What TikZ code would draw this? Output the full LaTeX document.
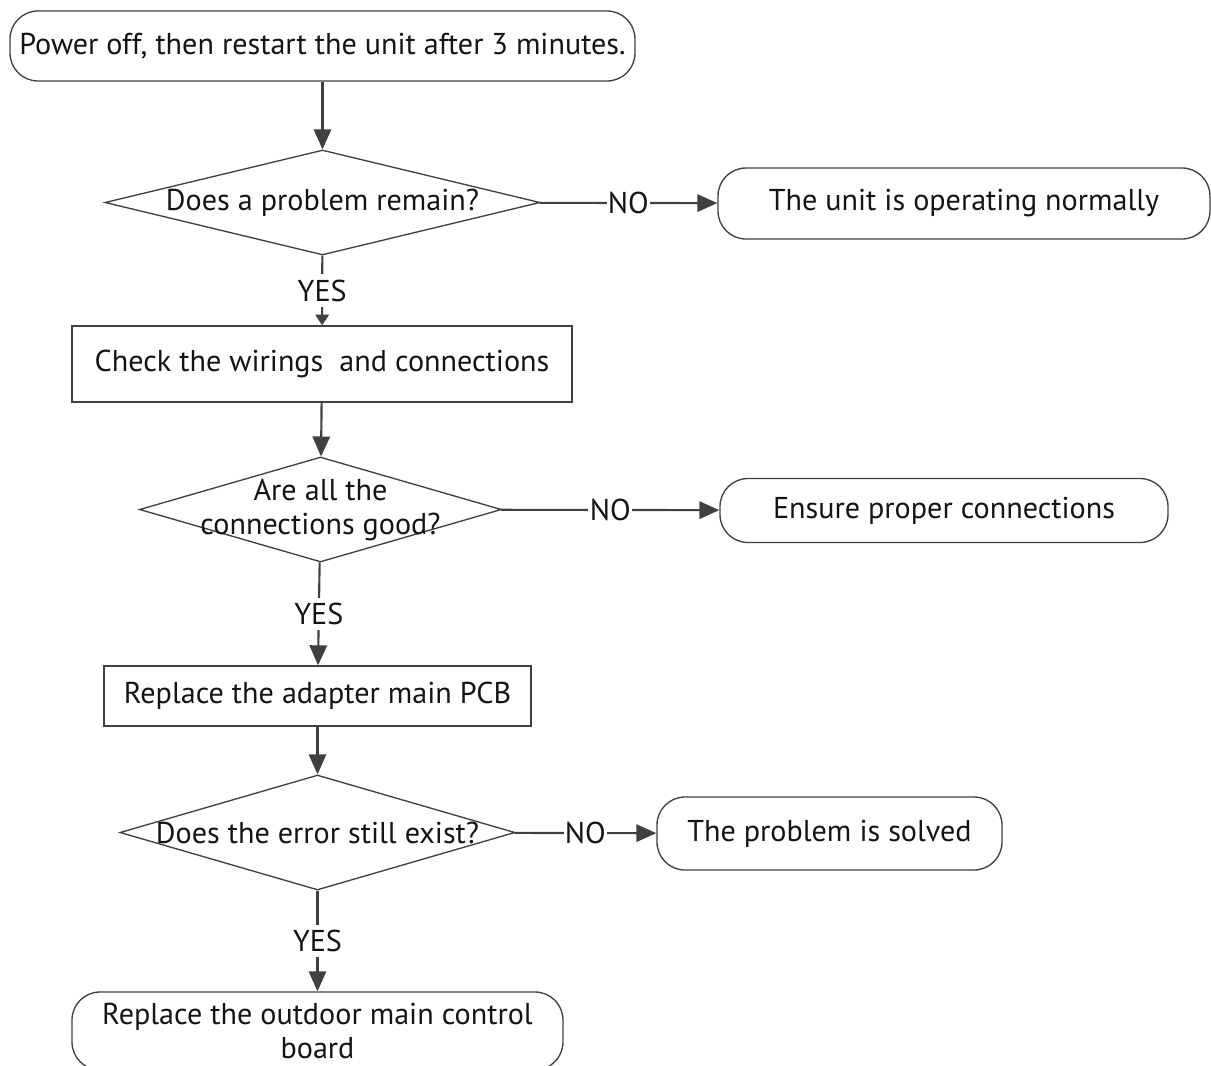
\documentclass[tikz,border=0pt]{standalone}
\usepackage{fontspec}
\setmainfont{PT Sans}
\usetikzlibrary{shapes.geometric,arrows.meta}

\definecolor{linegray}{RGB}{64,64,64}
\definecolor{txtgray}{RGB}{20,20,20}

\tikzset{every picture/.style={line width=0.75pt}}
\tikzset{
  flowtext/.style={font=\fontsize{22.6}{25.5}\selectfont, text=txtgray},
  roundbox/.style={draw=linegray, line width=1pt, rounded corners=21pt, flowtext, align=center, inner sep=0pt},
  stepbox/.style={draw=linegray, line width=1pt, flowtext, align=center, inner sep=0pt},
  decision/.style={diamond, draw=linegray, line width=1pt, inner sep=0pt},
  conn/.style={draw=linegray, line width=1.6pt, -{Triangle[length=15pt,width=13pt]}},
  shortconn/.style={draw=linegray, line width=1.6pt, -{Triangle[length=8pt,width=10pt]}},
  answer/.style={flowtext, fill=white, inner xsep=1pt, inner ysep=4pt},
}

\begin{document}
\begin{tikzpicture}[x=0.75pt,y=0.75pt,yscale=-1,xscale=1]
\useasboundingbox (0,0) rectangle (1211,1065);

%Shape: Rounded Rectangle [id:start]
\node [roundbox, minimum width=468.75pt, minimum height=52.5pt] (start) at (322.5,46) {Power off, then restart the unit after 3 minutes.};
%Shape: Diamond [id:remain]
\node [decision, minimum width=326.25pt, minimum height=78.75pt, label={[flowtext]center:Does a problem remain?}] (remain) at (322.5,202.5) {};
%Shape: Rounded Rectangle [id:normal]
\node [roundbox, minimum width=369pt, minimum height=53.25pt] (normal) at (964,203.5) {The unit is operating normally};
%Shape: Rectangle [id:wiring]
\node [stepbox, minimum width=375pt, minimum height=57pt] (wiring) at (322,364) {Check the wirings~ and connections};
%Shape: Diamond [id:conngood]
\node [decision, minimum width=271.5pt, minimum height=78.75pt, label={[flowtext, align=center]center:Are all the\\connections good?}] (conngood) at (320.5,509.5) {};
%Shape: Rounded Rectangle [id:ensure]
\node [roundbox, minimum width=336pt, minimum height=48pt] (ensure) at (944,510.5) {Ensure proper connections};
%Shape: Rectangle [id:pcb]
\node [stepbox, minimum width=320.25pt, minimum height=45pt] (pcb) at (317.5,696) {Replace the adapter main PCB};
%Shape: Diamond [id:errexist]
\node [decision, minimum width=296.25pt, minimum height=86.25pt, label={[flowtext]center:Does the error still exist?}] (errexist) at (317.5,832.5) {};
%Shape: Rounded Rectangle [id:solved]
\node [roundbox, minimum width=258.75pt, minimum height=54.75pt] (solved) at (829.5,833.5) {The problem is solved};
%Shape: Rounded Rectangle [id:outdoor]
\node [roundbox, minimum width=368.25pt, minimum height=58.5pt] (outdoor) at (317.5,1031) {Replace the outdoor main control\\board};

% Connection
\draw [conn] (start) -- (remain);
% Connection
\draw [conn] (remain) -- node [answer] {NO} (normal);
% Connection
\draw [shortconn] (remain) -- node [answer] {YES} (wiring);
% Connection
\draw [conn] (wiring) -- (conngood);
% Connection
\draw [conn] (conngood) -- node [answer] {NO} (ensure);
% Connection
\draw [conn] (conngood) -- node [answer] {YES} (pcb);
% Connection
\draw [conn] (pcb) -- (errexist);
% Connection
\draw [conn] (errexist) -- node [answer] {NO} (solved);
% Connection
\draw [conn] (errexist) -- node [answer] {YES} (outdoor);

\end{tikzpicture}
\end{document}
